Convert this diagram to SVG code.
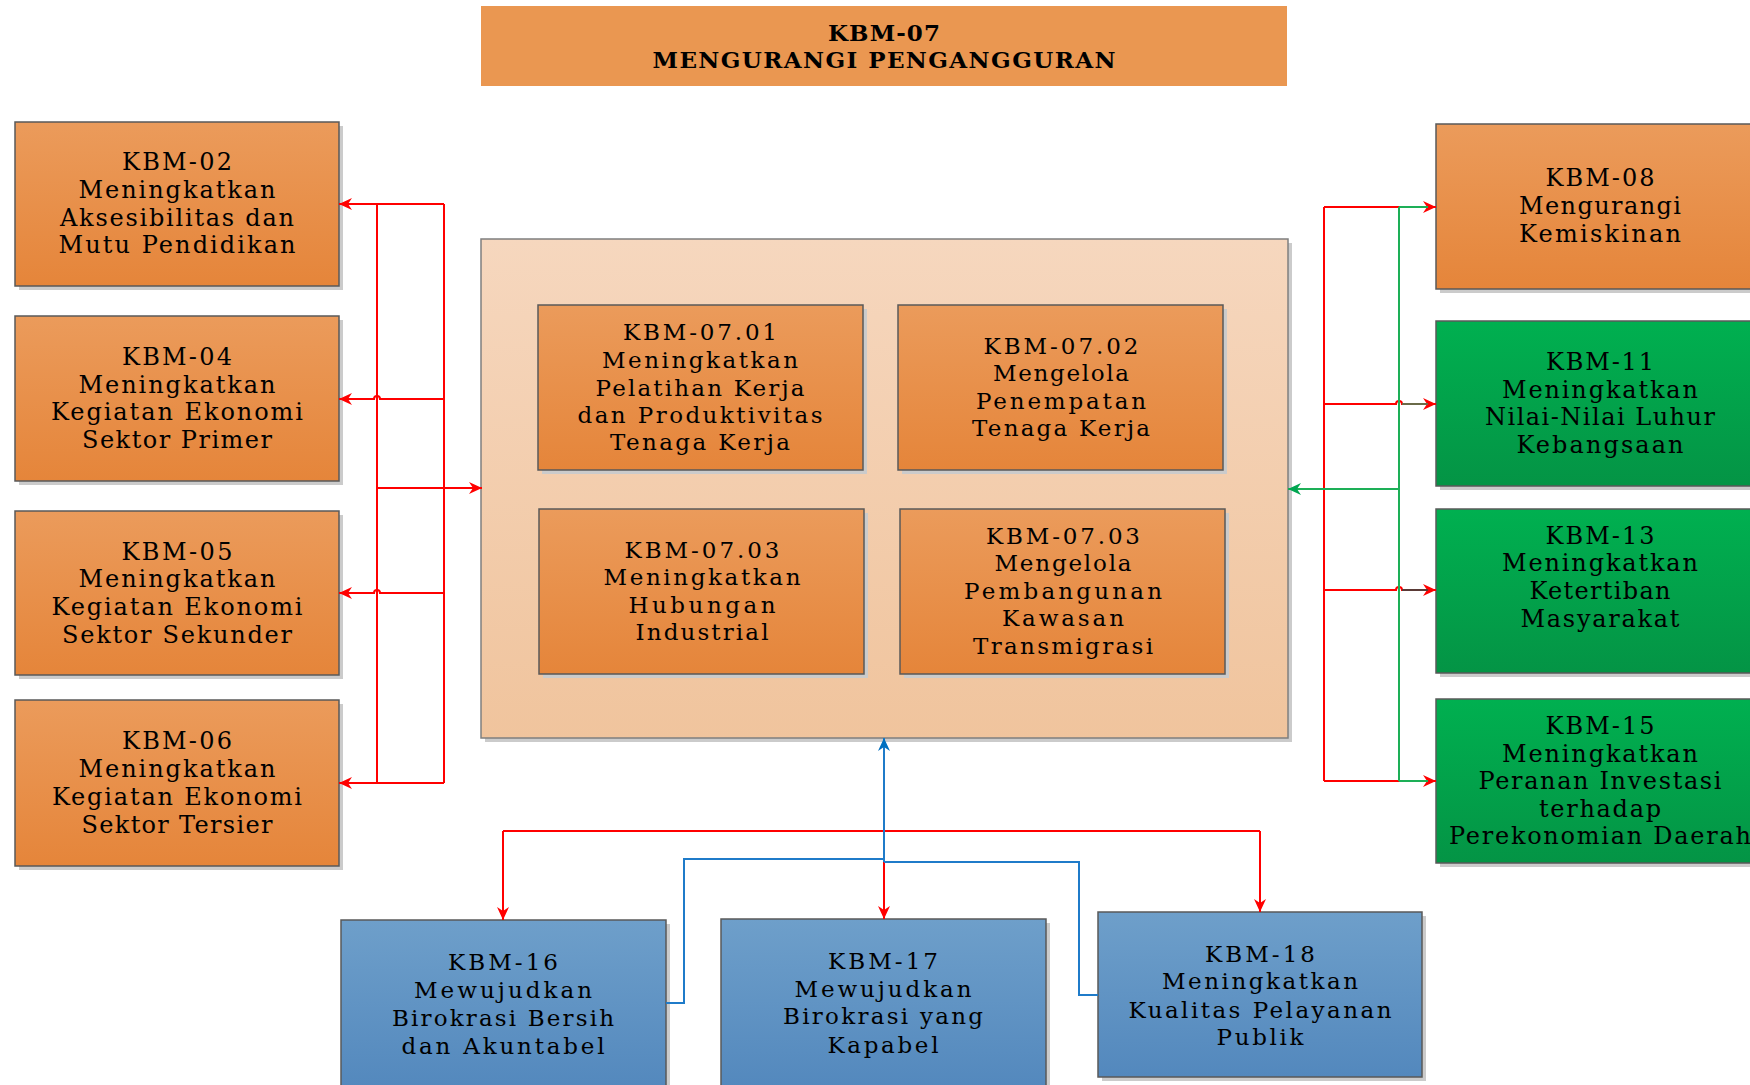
<svg xmlns="http://www.w3.org/2000/svg" width="1750" height="1085" viewBox="0 0 1750 1085">
<defs>
<linearGradient id="gOr" x1="0" y1="0" x2="0" y2="1"><stop offset="0" stop-color="#EB9B5B"/><stop offset="1" stop-color="#E5853A"/></linearGradient>
<linearGradient id="gGr" x1="0" y1="0" x2="0" y2="1"><stop offset="0" stop-color="#00B050"/><stop offset="1" stop-color="#049445"/></linearGradient>
<linearGradient id="gBl" x1="0" y1="0" x2="0" y2="1"><stop offset="0" stop-color="#6E9FCA"/><stop offset="1" stop-color="#5388BD"/></linearGradient>
<linearGradient id="gCt" x1="0" y1="0" x2="0" y2="1"><stop offset="0" stop-color="#F6D7BE"/><stop offset="1" stop-color="#F0C49D"/></linearGradient>
<marker id="aR" markerUnits="userSpaceOnUse" markerWidth="14" markerHeight="12" refX="13" refY="6" orient="auto"><path d="M0,0 L13,6 L0,12 L4,6 z" fill="#FF0000"/></marker>
<marker id="aG" markerUnits="userSpaceOnUse" markerWidth="14" markerHeight="12" refX="13" refY="6" orient="auto"><path d="M0,0 L13,6 L0,12 L4,6 z" fill="#00A651"/></marker>
<marker id="aB" markerUnits="userSpaceOnUse" markerWidth="14" markerHeight="12" refX="13" refY="6" orient="auto"><path d="M0,0 L13,6 L0,12 L4,6 z" fill="#0070C0"/></marker>
</defs>
<style>
.sh{fill:#CBCBCB}
.bx{stroke:#595959;stroke-width:1.5}
.or{fill:url(#gOr)}
.gr{fill:url(#gGr)}
.bl{fill:url(#gBl)}
.ct{fill:url(#gCt);stroke:#7F7F7F;stroke-width:1.5}
.t1{font-family:"DejaVu Serif","Liberation Serif",serif;font-size:24px;fill:#000;text-anchor:middle}
.t2{font-family:"DejaVu Serif","Liberation Serif",serif;font-size:23px;fill:#000;text-anchor:middle}
.tt{font-family:"DejaVu Serif","Liberation Serif",serif;font-size:23px;font-weight:bold;fill:#000;text-anchor:middle}
.r{fill:none;stroke:#FF0000;stroke-width:2}
.g{fill:none;stroke:#1DAF57;stroke-width:2}
.b{fill:none;stroke:#1F7BC9;stroke-width:2}
</style>
<rect width="1750" height="1085" fill="#FFFFFF"/>

<g id="title">
<rect x="481" y="6" width="806" height="80" fill="#EA9751"/>
<text class="tt" x="884" y="40.7" textLength="112">KBM-07</text>
<text class="tt" x="884" y="68.3" textLength="463">MENGURANGI PENGANGGURAN</text>
</g>

<g id="kbm07-container">
<rect class="sh" x="485" y="243" width="807" height="499"/>
<rect class="ct" x="481" y="239" width="807" height="499"/>
</g>

<g id="kbm07-01">
<rect class="sh" x="542" y="309" width="325" height="165"/>
<rect class="bx or" x="538" y="305" width="325" height="165"/>
<text class="t2" x="700" y="340" textLength="154">KBM-07.01</text>
<text class="t2" x="700" y="367.5" textLength="196">Meningkatkan</text>
<text class="t2" x="700" y="395.5" textLength="209">Pelatihan Kerja</text>
<text class="t2" x="700" y="423" textLength="245">dan Produktivitas</text>
<text class="t2" x="700" y="450" textLength="180">Tenaga Kerja</text>
</g>
<g id="kbm07-02">
<rect class="sh" x="902" y="309" width="325" height="165"/>
<rect class="bx or" x="898" y="305" width="325" height="165"/>
<text class="t2" x="1061" y="353.5" textLength="155">KBM-07.02</text>
<text class="t2" x="1061" y="381" textLength="136">Mengelola</text>
<text class="t2" x="1061" y="408.7" textLength="170">Penempatan</text>
<text class="t2" x="1061" y="436.3" textLength="178">Tenaga Kerja</text>
</g>
<g id="kbm07-03a">
<rect class="sh" x="543" y="513" width="325" height="165"/>
<rect class="bx or" x="539" y="509" width="325" height="165"/>
<text class="t2" x="702" y="557.5" textLength="155">KBM-07.03</text>
<text class="t2" x="702" y="585" textLength="197">Meningkatkan</text>
<text class="t2" x="702" y="612.7" textLength="147">Hubungan</text>
<text class="t2" x="702" y="640.3" textLength="133">Industrial</text>
</g>
<g id="kbm07-03b">
<rect class="sh" x="904" y="513" width="325" height="165"/>
<rect class="bx or" x="900" y="509" width="325" height="165"/>
<text class="t2" x="1063" y="543.5" textLength="154">KBM-07.03</text>
<text class="t2" x="1063" y="571" textLength="137">Mengelola</text>
<text class="t2" x="1063" y="598.7" textLength="198">Pembangunan</text>
<text class="t2" x="1063" y="626.3" textLength="122">Kawasan</text>
<text class="t2" x="1063" y="654" textLength="180">Transmigrasi</text>
</g>

<g id="kbm02">
<rect class="sh" x="19" y="126" width="324" height="164"/>
<rect class="bx or" x="15" y="122" width="324" height="164"/>
<text class="t1" x="177" y="170" textLength="110">KBM-02</text>
<text class="t1" x="177" y="198" textLength="197">Meningkatkan</text>
<text class="t1" x="177" y="225.5" textLength="234">Aksesibilitas dan</text>
<text class="t1" x="177" y="253" textLength="237">Mutu Pendidikan</text>
</g>
<g id="kbm04">
<rect class="sh" x="19" y="320" width="324" height="165"/>
<rect class="bx or" x="15" y="316" width="324" height="165"/>
<text class="t1" x="177" y="365" textLength="110">KBM-04</text>
<text class="t1" x="177" y="392.5" textLength="197">Meningkatkan</text>
<text class="t1" x="177" y="420" textLength="252">Kegiatan Ekonomi</text>
<text class="t1" x="177" y="447.5" textLength="190">Sektor Primer</text>
</g>
<g id="kbm05">
<rect class="sh" x="19" y="515" width="324" height="164"/>
<rect class="bx or" x="15" y="511" width="324" height="164"/>
<text class="t1" x="177" y="559.5" textLength="111">KBM-05</text>
<text class="t1" x="177" y="587" textLength="197">Meningkatkan</text>
<text class="t1" x="177" y="615" textLength="251">Kegiatan Ekonomi</text>
<text class="t1" x="177" y="642.5" textLength="230">Sektor Sekunder</text>
</g>
<g id="kbm06">
<rect class="sh" x="19" y="704" width="324" height="166"/>
<rect class="bx or" x="15" y="700" width="324" height="166"/>
<text class="t1" x="177" y="749" textLength="110">KBM-06</text>
<text class="t1" x="177" y="777" textLength="197">Meningkatkan</text>
<text class="t1" x="177" y="805" textLength="250">Kegiatan Ekonomi</text>
<text class="t1" x="177" y="832.5" textLength="191">Sektor Tersier</text>
</g>

<g id="kbm08">
<rect class="sh" x="1440" y="128" width="330" height="165"/>
<rect class="bx or" x="1436" y="124" width="330" height="165"/>
<text class="t1" x="1600" y="186" textLength="109">KBM-08</text>
<text class="t1" x="1600" y="214" textLength="162">Mengurangi</text>
<text class="t1" x="1600" y="241.7" textLength="162">Kemiskinan</text>
</g>
<g id="kbm11">
<rect class="sh" x="1440" y="325" width="330" height="165"/>
<rect class="bx gr" x="1436" y="321" width="330" height="165"/>
<text class="t1" x="1600" y="370" textLength="108">KBM-11</text>
<text class="t1" x="1600" y="397.5" textLength="196">Meningkatkan</text>
<text class="t1" x="1600" y="425" textLength="230">Nilai-Nilai Luhur</text>
<text class="t1" x="1600" y="452.5" textLength="167">Kebangsaan</text>
</g>
<g id="kbm13">
<rect class="sh" x="1440" y="513" width="330" height="164"/>
<rect class="bx gr" x="1436" y="509" width="330" height="164"/>
<text class="t1" x="1600" y="543.5" textLength="109">KBM-13</text>
<text class="t1" x="1600" y="571" textLength="196">Meningkatkan</text>
<text class="t1" x="1600" y="598.5" textLength="141">Ketertiban</text>
<text class="t1" x="1600" y="626.5" textLength="159">Masyarakat</text>
</g>
<g id="kbm15">
<rect class="sh" x="1440" y="703" width="330" height="164"/>
<rect class="bx gr" x="1436" y="699" width="330" height="164"/>
<text class="t1" x="1600" y="734" textLength="109">KBM-15</text>
<text class="t1" x="1600" y="761.7" textLength="196">Meningkatkan</text>
<text class="t1" x="1600" y="789" textLength="243">Peranan Investasi</text>
<text class="t1" x="1600" y="816.7" textLength="122">terhadap</text>
<text class="t1" x="1600" y="844" textLength="302">Perekonomian Daerah</text>
</g>

<g id="kbm16">
<rect class="sh" x="345" y="924" width="325" height="170"/>
<rect class="bx bl" x="341" y="920" width="325" height="170"/>
<text class="t2" x="503" y="970" textLength="110">KBM-16</text>
<text class="t2" x="503" y="997.7" textLength="178">Mewujudkan</text>
<text class="t2" x="503" y="1026" textLength="222">Birokrasi Bersih</text>
<text class="t2" x="503" y="1054" textLength="203">dan Akuntabel</text>
</g>
<g id="kbm17">
<rect class="sh" x="725" y="923" width="325" height="170"/>
<rect class="bx bl" x="721" y="919" width="325" height="170"/>
<text class="t2" x="883" y="969.3" textLength="110">KBM-17</text>
<text class="t2" x="883" y="996.7" textLength="177">Mewujudkan</text>
<text class="t2" x="883" y="1024" textLength="200">Birokrasi yang</text>
<text class="t2" x="883" y="1052.7" textLength="111">Kapabel</text>
</g>
<g id="kbm18">
<rect class="sh" x="1102" y="916" width="324" height="165"/>
<rect class="bx bl" x="1098" y="912" width="324" height="165"/>
<text class="t2" x="1260" y="962.3" textLength="110">KBM-18</text>
<text class="t2" x="1260" y="989.3" textLength="196">Meningkatkan</text>
<text class="t2" x="1260" y="1017.7" textLength="263">Kualitas Pelayanan</text>
<text class="t2" x="1260" y="1045" textLength="87">Publik</text>
</g>

<g id="connectors">
<path class="r" d="M444,204 V783"/>
<path class="r" d="M377,204 V783"/>
<path class="r" d="M444,204 H339" marker-end="url(#aR)"/>
<path class="r" d="M444,399 H380 a3,3 0 0 0 -6,0 H339" marker-end="url(#aR)"/>
<path class="r" d="M444,593 H380 a3,3 0 0 0 -6,0 H339" marker-end="url(#aR)"/>
<path class="r" d="M444,783 H339" marker-end="url(#aR)"/>
<path class="r" d="M377,488 H482" marker-end="url(#aR)"/>

<path class="r" d="M1324,207 V781"/>
<path class="r" d="M1324,207 H1436" marker-end="url(#aR)"/>
<path class="r" d="M1324,404 H1396 a3,3 0 0 1 6,0 H1436" marker-end="url(#aR)"/>
<path class="r" d="M1324,590 H1396 a3,3 0 0 1 6,0 H1436" marker-end="url(#aR)"/>
<path class="r" d="M1324,781 H1436" marker-end="url(#aR)"/>
<path class="g" d="M1399,207 V781"/>
<path class="g" d="M1399,207 H1428"/>
<path class="g" d="M1399,781 H1428" stroke="#3E8A47"/>
<path d="M1402,404 H1428" fill="none" stroke="#6A6A48" stroke-width="2"/>
<path d="M1402,590 H1428" fill="none" stroke="#5A3A36" stroke-width="2"/>
<path class="g" d="M1399,489 H1288" stroke="#00A04A" marker-end="url(#aG)"/>

<path class="r" d="M884,738 V919" marker-end="url(#aR)"/>
<path class="r" d="M503,831 H1260"/>
<path class="r" d="M503,831 V920" marker-end="url(#aR)"/>
<path class="r" d="M1260,831 V912" marker-end="url(#aR)"/>
<path class="b" d="M884,859 H684 V1003 H666"/>
<path class="b" d="M884,862 H1079 V995 H1098"/>
<path class="b" d="M884,862 V738" stroke="#0070C0" marker-end="url(#aB)"/>
</g>
</svg>
